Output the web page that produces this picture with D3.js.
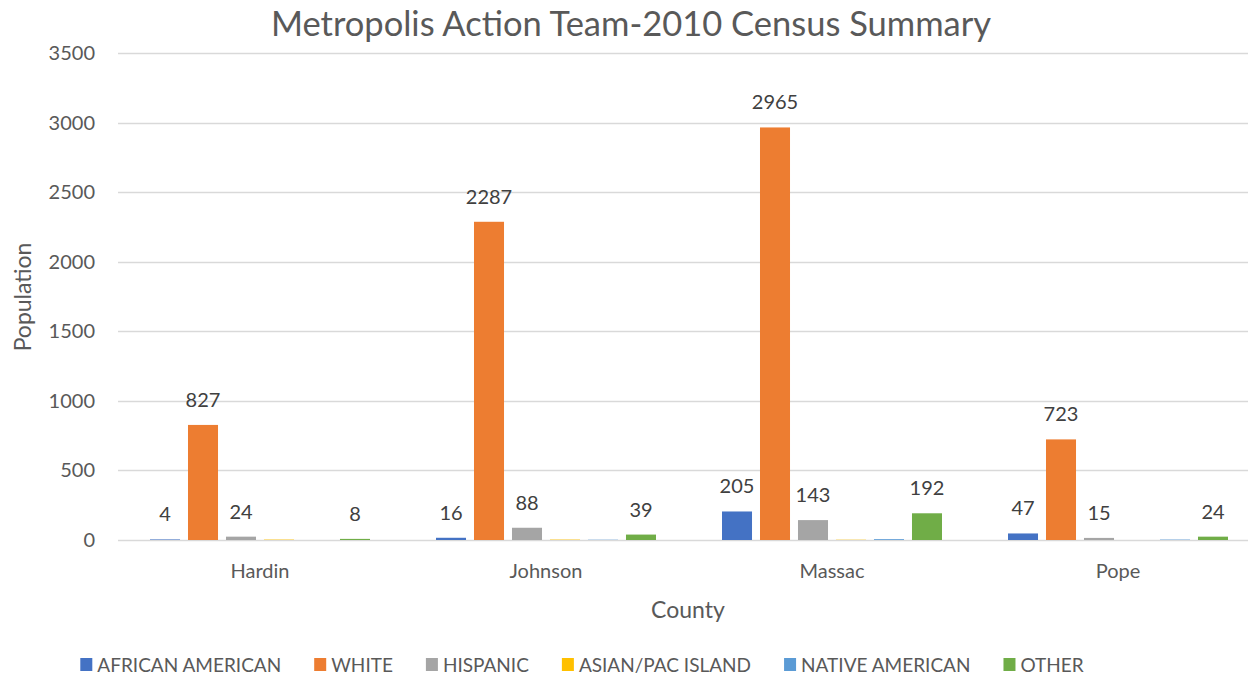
<!DOCTYPE html>
<html>
<head>
<meta charset="utf-8">
<script src="https://cdn.jsdelivr.net/npm/d3@7"></script>
<style>
  body { margin: 0; background: #fff; }
  text { font-family: Lato, "Open Sans", sans-serif; }
</style>
</head>
<body>
<div id="chart"></div>
<script>
// chart data
const counties = ["Hardin", "Johnson", "Massac", "Pope"];
const series = ["AFRICAN AMERICAN", "WHITE", "HISPANIC", "ASIAN/PAC ISLAND", "NATIVE AMERICAN", "OTHER"];
const colors = ["#4472C4", "#ED7D31", "#A5A5A5", "#FFC000", "#5B9BD5", "#70AD47"];
// values per series, in county order
const africanAmerican = [4, 16, 205, 47];
const white = [827, 2287, 2965, 723];
const hispanic = [24, 88, 143, 15];
const asianPac = [3, 3, 2, 0];
const nativeAmerican = [0, 2, 6, 3];
const other = [8, 39, 192, 24];
const labelled = [true, true, true, false, false, true];
const yTicks = [0, 500, 1000, 1500, 2000, 2500, 3000, 3500];

const values = [africanAmerican, white, hispanic, asianPac, nativeAmerican, other];

const width = 1248, height = 675;
const svg = d3.select("#chart").append("svg")
  .attr("width", width)
  .attr("height", height);

const y = d3.scaleLinear().domain([0, 3500]).range([540, 53]);
const x0 = d3.scaleBand().domain(counties).range([117, 1261]);
const x1 = d3.scaleBand().domain(series).range([33, 253]).paddingInner(0.21);

// gridlines
svg.append("g")
  .selectAll("line")
  .data(yTicks)
  .join("line")
  .attr("x1", 118)
  .attr("x2", width)
  .attr("y1", d => Math.round(y(d)) + 0.5)
  .attr("y2", d => Math.round(y(d)) + 0.5)
  .attr("stroke", "#d9d9d9")
  .attr("stroke-width", 1.5);

// y tick labels
svg.append("g")
  .selectAll("text")
  .data(yTicks)
  .join("text")
  .attr("x", 95)
  .attr("y", d => y(d) + 7)
  .attr("text-anchor", "end")
  .attr("font-size", 20)
  .attr("fill", "#595959")
  .text(d => d);

// bars
const rows = [];
counties.forEach((c, i) => {
  series.forEach((s, j) => {
    rows.push({ county: c, series: s, value: values[j][i], color: colors[j], label: labelled[j] });
  });
});

svg.append("g")
  .selectAll("rect")
  .data(rows)
  .join("rect")
  .attr("x", d => x0(d.county) + x1(d.series))
  .attr("width", x1.bandwidth())
  .attr("y", d => y(d.value))
  .attr("height", d => y(0) - y(d.value))
  .attr("fill", d => d.color);

// data labels
svg.append("g")
  .selectAll("text")
  .data(rows.filter(d => d.label))
  .join("text")
  .attr("x", d => x0(d.county) + x1(d.series) + x1.bandwidth() / 2)
  .attr("y", d => y(d.value) - 18)
  .attr("text-anchor", "middle")
  .attr("font-size", 20)
  .attr("fill", "#404040")
  .text(d => d.value);

// category labels
svg.append("g")
  .selectAll("text")
  .data(counties)
  .join("text")
  .attr("x", d => x0(d) + x0.bandwidth() / 2)
  .attr("y", 578)
  .attr("text-anchor", "middle")
  .attr("font-size", 20)
  .attr("fill", "#595959")
  .text(d => d);

// titles
svg.append("text")
  .attr("x", 631)
  .attr("y", 36)
  .attr("text-anchor", "middle")
  .attr("font-size", 34.5)
  .attr("fill", "#595959")
  .text("Metropolis Action Team-2010 Census Summary");

svg.append("text")
  .attr("x", 688)
  .attr("y", 618)
  .attr("text-anchor", "middle")
  .attr("font-size", 23)
  .attr("fill", "#595959")
  .text("County");

svg.append("text")
  .attr("transform", "translate(31,297) rotate(-90)")
  .attr("text-anchor", "middle")
  .attr("font-size", 23)
  .attr("fill", "#595959")
  .text("Population");

// legend
const legend = svg.append("g");
let lx = 0;
series.forEach((s, j) => {
  const g = legend.append("g").attr("transform", `translate(${lx},0)`);
  g.append("rect").attr("x", 0).attr("y", 658).attr("width", 12).attr("height", 13).attr("fill", colors[j]);
  const t = g.append("text")
    .attr("x", 17)
    .attr("y", 671.5)
    .attr("font-size", 19)
    .attr("fill", "#595959")
    .text(s);
  lx += 17 + t.node().getComputedTextLength() + 33;
});
const legendW = lx - 33;
legend.attr("transform", `translate(${582 - legendW / 2},0)`);
</script>
</body>
</html>
